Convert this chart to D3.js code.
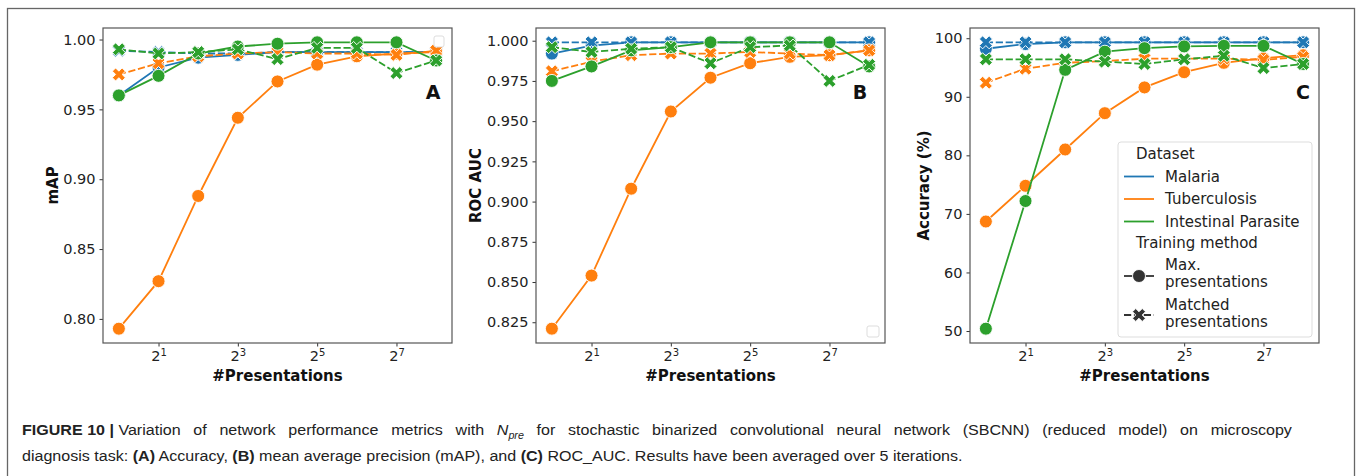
<!DOCTYPE html>
<html>
<head>
<meta charset="utf-8">
<script src="https://cdn.jsdelivr.net/npm/d3@7/dist/d3.min.js"></script>
<style>
  body { margin: 0; background: #fff; }
  svg { display: block; }
  .tick text { font-family: "DejaVu Sans", sans-serif; font-size: 14.5px; fill: #222; }
  .tick line { stroke: #333; }
</style>
</head>
<body>
<script>
// x values: number of presentations (log2 axis)
var presentations = [1, 2, 4, 8, 16, 32, 64, 128, 256];
var xTickValues = [2, 8, 32, 128];
var datasets = ["Malaria", "Tuberculosis", "Intestinal Parasite"];
var methods = ["Max. presentations", "Matched presentations"];

// panel A - mAP
var mapMalariaMax     = [0.960, 0.980, 0.987, 0.989, 0.991, 0.991, 0.991, 0.991, 0.991];
var mapMalariaMatched = [0.992, 0.991, 0.990, 0.990, 0.991, 0.991, 0.991, 0.991, 0.991];
var mapTbMax          = [0.793, 0.827, 0.888, 0.944, 0.970, 0.982, 0.988, 0.990, 0.991];
var mapTbMatched      = [0.975, 0.983, 0.988, 0.990, 0.991, 0.990, 0.990, 0.989, 0.992];
var mapIpMax          = [0.960, 0.974, 0.990, 0.995, 0.997, 0.998, 0.998, 0.998, 0.985];
var mapIpMatched      = [0.993, 0.990, 0.991, 0.993, 0.986, 0.994, 0.994, 0.976, 0.985];
var mapTicks = [0.80, 0.85, 0.90, 0.95, 1.00];

// panel B - ROC AUC
var rocMalariaMax     = [0.992, 0.997, 0.999, 0.999, 0.999, 0.999, 0.999, 0.999, 0.999];
var rocMalariaMatched = [0.999, 0.999, 0.999, 0.999, 0.999, 0.999, 0.999, 0.999, 0.999];
var rocTbMax          = [0.821, 0.854, 0.908, 0.956, 0.977, 0.986, 0.990, 0.991, 0.994];
var rocTbMatched      = [0.981, 0.987, 0.991, 0.992, 0.992, 0.993, 0.992, 0.991, 0.994];
var rocIpMax          = [0.975, 0.984, 0.994, 0.996, 0.999, 0.999, 0.999, 0.999, 0.984];
var rocIpMatched      = [0.996, 0.993, 0.995, 0.996, 0.986, 0.996, 0.997, 0.975, 0.985];
var rocTicks = [0.825, 0.850, 0.875, 0.900, 0.925, 0.950, 0.975, 1.000];

// panel C - accuracy (%)
var accMalariaMax     = [98.2, 99.0, 99.3, 99.3, 99.3, 99.3, 99.3, 99.3, 99.3];
var accMalariaMatched = [99.3, 99.3, 99.3, 99.3, 99.3, 99.3, 99.3, 99.3, 99.3];
var accTbMax          = [68.7, 74.8, 81.0, 87.2, 91.6, 94.2, 95.8, 96.6, 97.1];
var accTbMatched      = [92.4, 94.8, 95.8, 96.1, 96.5, 96.5, 96.5, 96.3, 96.8];
var accIpMax          = [50.4, 72.2, 94.6, 97.7, 98.3, 98.6, 98.7, 98.7, 95.6];
var accIpMatched      = [96.4, 96.4, 96.4, 96.0, 95.6, 96.4, 97.0, 94.9, 95.6];
var accTicks = [50, 60, 70, 80, 90, 100];

var colors = ["#1f77b4", "#ff7f0e", "#2ca02c"];

var W = 1357, H = 476;
var svg = d3.select("body").append("svg").attr("width", W).attr("height", H);

// outer figure border
svg.append("rect")
  .attr("x", 7.5).attr("y", 8.5).attr("width", 1347).attr("height", 520)
  .attr("fill", "none").attr("stroke", "#666").attr("stroke-width", 1.3);

var panels = [
  { left: 103, ylabel: "mAP", labelOff: 50, letter: "A", letterOff: 19, ticks: mapTicks, fmt: ".2f",
    series: [[mapMalariaMax, mapMalariaMatched], [mapTbMax, mapTbMatched], [mapIpMax, mapIpMatched]],
    emptyBox: { x: 331, y: 8, w: 10, h: 11 } },
  { left: 536, ylabel: "ROC AUC", labelOff: 60, letter: "B", letterOff: 25, ticks: rocTicks, fmt: ".3f",
    series: [[rocMalariaMax, rocMalariaMatched], [rocTbMax, rocTbMatched], [rocIpMax, rocIpMatched]],
    emptyBox: { x: 331, y: 298, w: 12, h: 11 } },
  { left: 970, ylabel: "Accuracy (%)", labelOff: 46, letter: "C", letterOff: 16, ticks: accTicks, fmt: "d",
    series: [[accMalariaMax, accMalariaMatched], [accTbMax, accTbMatched], [accIpMax, accIpMatched]],
    legend: true }
];

var pw = 349, ph = 315, plotTop = 28;

var crossSym = d3.symbol().type(d3.symbolCross).size(106);

panels.forEach(function(p) {
  var g = svg.append("g").attr("transform", "translate(" + p.left + "," + plotTop + ")");

  // matplotlib-ish 5% margins
  var lx = Math.log2(presentations[0]), hx = Math.log2(presentations[presentations.length - 1]);
  var padx = (hx - lx) * 0.05;
  var x = d3.scaleLog().base(2)
    .domain([Math.pow(2, lx - padx), Math.pow(2, hx + padx)])
    .range([0, pw]);

  var all = [];
  p.series.forEach(function(s) { s.forEach(function(a) { all = all.concat(a); }); });
  var ext = d3.extent(all), pady = (ext[1] - ext[0]) * 0.05;
  var y = d3.scaleLinear().domain([ext[0] - pady, ext[1] + pady]).range([ph, 0]);

  var yAxis = d3.axisLeft(y).tickValues(p.ticks).tickFormat(d3.format(p.fmt)).tickSize(3.5).tickPadding(4);
  var xAxis = d3.axisBottom(x).tickValues(xTickValues).tickSize(3.5).tickPadding(4);

  var gy = g.append("g").call(yAxis);
  gy.select(".domain").remove();
  var gx = g.append("g").attr("transform", "translate(0," + ph + ")").call(xAxis);
  gx.select(".domain").remove();
  gx.selectAll(".tick text").each(function(d) {
    var t = d3.select(this);
    t.text("2");
    t.append("tspan").attr("dy", "-0.5em").attr("font-size", "10px").text(Math.round(Math.log2(d)));
  });

  var line = d3.line()
    .x(function(d, i) { return x(presentations[i]); })
    .y(function(d) { return y(d); });

  p.series.forEach(function(pair, di) {
    pair.forEach(function(vals, mi) {
      g.append("path")
        .datum(vals)
        .attr("d", line)
        .attr("fill", "none")
        .attr("stroke", colors[di])
        .attr("stroke-width", 1.8)
        .attr("stroke-dasharray", mi === 1 ? "7.2,2.7" : null);
      if (mi === 0) {
        g.selectAll(null).data(vals).enter().append("circle")
          .attr("cx", function(d, i) { return x(presentations[i]); })
          .attr("cy", function(d) { return y(d); })
          .attr("r", 6.5)
          .attr("fill", colors[di]).attr("stroke", "#fff").attr("stroke-width", 0.9);
      } else {
        g.selectAll(null).data(vals).enter().append("path")
          .attr("d", crossSym)
          .attr("transform", function(d, i) { return "translate(" + x(presentations[i]) + "," + y(d) + ") rotate(45)"; })
          .attr("fill", colors[di]).attr("stroke", "#fff").attr("stroke-width", 0.9);
      }
    });
  });

  // frame
  g.append("rect").attr("width", pw).attr("height", ph)
    .attr("fill", "none").attr("stroke", "#555").attr("stroke-width", 1.2);

  // axis labels
  g.append("text")
    .attr("transform", "translate(" + (-p.labelOff) + "," + (ph / 2) + ") rotate(-90)")
    .attr("text-anchor", "middle").attr("dy", "0.35em")
    .attr("font-family", "DejaVu Sans, sans-serif").attr("font-weight", "bold").attr("font-size", 15)
    .attr("fill", "#111").text(p.ylabel);
  g.append("text")
    .attr("x", pw / 2).attr("y", ph + 38)
    .attr("text-anchor", "middle")
    .attr("font-family", "DejaVu Sans, sans-serif").attr("font-weight", "bold").attr("font-size", 15)
    .attr("fill", "#111").text("#Presentations");

  g.append("text")
    .attr("x", pw - p.letterOff).attr("y", 71)
    .attr("text-anchor", "middle")
    .attr("font-family", "DejaVu Sans, sans-serif").attr("font-weight", "bold").attr("font-size", 19)
    .attr("fill", "#111").text(p.letter);

  if (p.emptyBox) {
    g.append("rect").attr("x", p.emptyBox.x).attr("y", p.emptyBox.y)
      .attr("width", p.emptyBox.w).attr("height", p.emptyBox.h).attr("rx", 2)
      .attr("fill", "#fff").attr("stroke", "#ddd");
  }

  if (p.legend) {
    var lg = g.append("g").attr("transform", "translate(148,114)");
    lg.append("rect").attr("width", 194).attr("height", 195).attr("rx", 3)
      .attr("fill", "#fff").attr("fill-opacity", 0.85).attr("stroke", "#ddd");
    var txt = function(xp, yp, s) {
      lg.append("text").attr("x", xp).attr("y", yp).attr("dy", "0.35em")
        .attr("font-family", "DejaVu Sans, sans-serif").attr("font-size", 15)
        .attr("fill", "#222").text(s);
    };
    txt(18, 12, "Dataset");
    datasets.forEach(function(name, i) {
      var yy = 34.5 + i * 22.5;
      lg.append("line").attr("x1", 6).attr("x2", 36).attr("y1", yy).attr("y2", yy)
        .attr("stroke", colors[i]).attr("stroke-width", 1.8);
      txt(47, yy, name);
    });
    txt(18, 101, "Training method");
    var m1 = 134, m2 = 173;
    lg.append("line").attr("x1", 6).attr("x2", 36).attr("y1", m1).attr("y2", m1)
      .attr("stroke", "#333").attr("stroke-width", 1.8);
    lg.append("circle").attr("cx", 21).attr("cy", m1).attr("r", 6.5).attr("fill", "#333").attr("stroke", "#fff").attr("stroke-width", 0.9);
    var mp = methods[0].split(" ");
    txt(47, 123, mp[0]);
    txt(47, 140, mp[1]);
    lg.append("line").attr("x1", 6).attr("x2", 36).attr("y1", m2).attr("y2", m2)
      .attr("stroke", "#333").attr("stroke-width", 1.8).attr("stroke-dasharray", "7.2,2.7");
    lg.append("path").attr("d", crossSym).attr("transform", "translate(21," + m2 + ") rotate(45)")
      .attr("fill", "#333").attr("stroke", "#fff").attr("stroke-width", 0.9);
    var mm = methods[1].split(" ");
    txt(47, 163, mm[0]);
    txt(47, 180, mm[1]);
  }
});

// caption: slightly narrow glyphs, first line justified to the full width
var capFont = "Liberation Sans, Arial, Helvetica, sans-serif";
function capText(parts) {
  var t = svg.append("text").attr("x", 0).attr("y", 0)
    .attr("font-family", capFont).attr("font-size", 15).attr("fill", "#222");
  parts.forEach(function(pt) {
    var s = t.append("tspan").attr("class", pt.b ? "cb" : "cr").text(pt.t);
    if (pt.b) s.attr("font-weight", "bold");
    if (pt.i) s.attr("font-style", "italic");
    if (pt.sub) s.attr("font-size", 10).attr("dy", 4);
    if (pt.up) s.attr("dy", -4);
  });
  return t;
}
var cap1 = capText([
  { t: "FIGURE 10 | ", b: true },
  { t: "Variation of network performance metrics with " },
  { t: "N", i: true },
  { t: "pre", i: true, sub: true },
  { t: " for stochastic binarized convolutional neural network (SBCNN) (reduced model) on microscopy", up: true }
]);
var cap2 = capText([
  { t: "diagnosis task: " },
  { t: "(A)", b: true },
  { t: " Accuracy, " },
  { t: "(B)", b: true },
  { t: " mean average precision (mAP), and " },
  { t: "(C)", b: true },
  { t: " ROC_AUC. Results have been averaged over 5 iterations." }
]);
var w1 = cap1.node().getComputedTextLength();
var capScale = 0.89 * 1271 / w1;
cap2.attr("transform", "translate(22,461) scale(" + capScale + ",1)");
var nSpaces = 0;
cap1.selectAll("tspan.cr").each(function() { nSpaces += (this.textContent.match(/ /g) || []).length; });
cap1.selectAll("tspan.cr").attr("word-spacing", (1271 / capScale - w1) / nSpaces);
cap1.attr("transform", "translate(22,435) scale(" + capScale + ",1)");
</script>
</body>
</html>
